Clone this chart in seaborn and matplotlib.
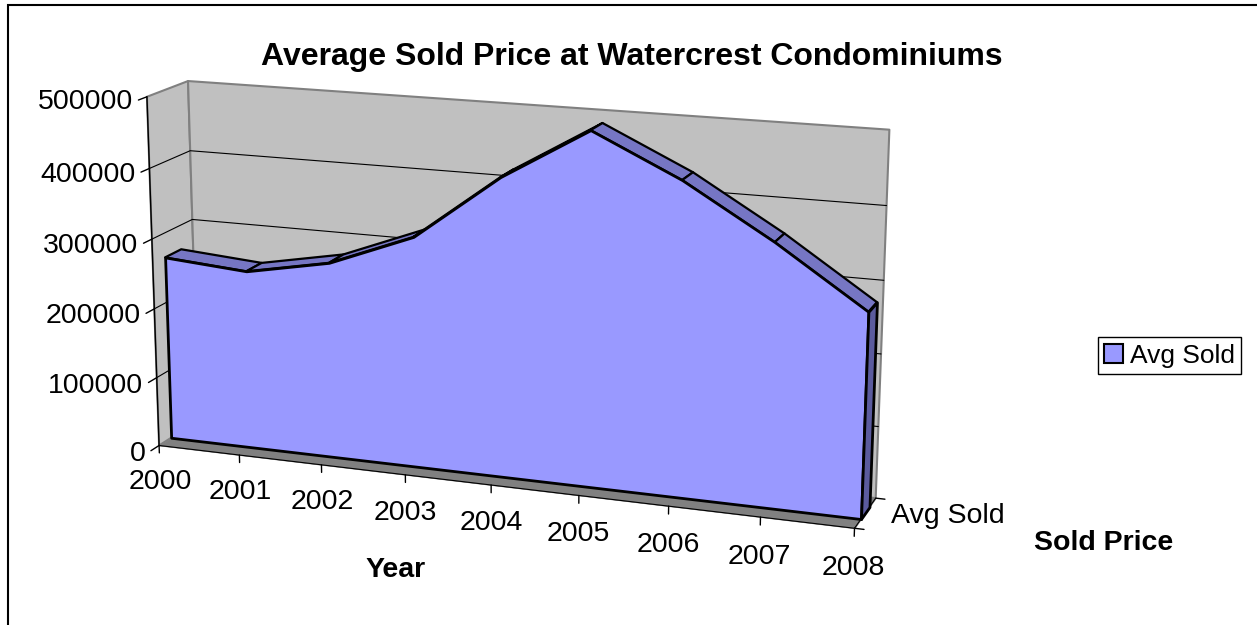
import matplotlib

matplotlib.use("Agg")

import matplotlib.pyplot as plt
import numpy as np
import pandas as pd
import seaborn as sns
from matplotlib.patches import Patch, Rectangle
from matplotlib.text import Text
from mpl_toolkits.mplot3d import proj3d
from mpl_toolkits.mplot3d.art3d import Poly3DCollection


YEARS = [2000, 2001, 2002, 2003, 2004, 2005, 2006, 2007, 2008]
AVG_SOLD = [265000, 256000, 279000, 326000, 418000, 490000, 433000, 361000, 280000]
VALUE_TICKS = [0, 100000, 200000, 300000, 400000, 500000]
SERIES_NAME = "Avg Sold"

TITLE = "Average Sold Price at Watercrest Condominiums"
X_TITLE = "Year"
DEPTH_TITLE = "Sold Price"

FRONT_COLOR = "#9999FF"
TOP_COLOR = "#7676C4"
SIDE_COLOR = "#5B5B9E"
WALL_COLOR = "#C0C0C0"
WALL_EDGE = "#808080"
FLOOR_COLOR = "#808080"

# the series slab sits in the middle of the 0..1 depth range (Excel gap depth 150%)
SLAB_FRONT, SLAB_BACK = 0.3, 0.7

W, H = 1257, 625

sns.set_theme(style="white")
plt.rcParams["font.family"] = ["Liberation Sans", "DejaVu Sans"]
plt.rcParams["text.color"] = "black"


def build_frame() -> pd.DataFrame:
    df = pd.DataFrame({"year": YEARS, "avg_sold": AVG_SOLD})
    df["pos"] = np.arange(len(df))
    return df


def label_3d(fig, ax, x, y, z, s, **kw):
    # project a 3D anchor through the axes' own projection, then place a flat text there
    px, py, _ = proj3d.proj_transform(x, y, z, ax.get_proj())
    fx, fy = fig.transFigure.inverted().transform(ax.transData.transform((px, py)))
    fig.text(fx, fy, s, **kw)


def draw_box(ax, x_max, z_max):
    floor = [(0, 0, 0), (x_max, 0, 0), (x_max, 1, 0), (0, 1, 0)]
    side = [(0, 0, 0), (0, 1, 0), (0, 1, z_max), (0, 0, z_max)]
    back = [(0, 1, 0), (x_max, 1, 0), (x_max, 1, z_max), (0, 1, z_max)]
    ax.add_collection3d(Poly3DCollection([floor], facecolor=FLOOR_COLOR, edgecolor=FLOOR_COLOR,
                                         linewidth=0.5, zorder=1))
    ax.add_collection3d(Poly3DCollection([side, back], facecolor=WALL_COLOR, edgecolor=WALL_EDGE,
                                         linewidth=1.5, zorder=1))

    # gridlines run across the side wall and the back wall
    for z in VALUE_TICKS[1:-1]:
        ax.plot([0, 0, x_max], [0, 1, 1], [z, z, z], color="black", linewidth=0.8, zorder=2)


def draw_axes(ax, df, x_max, z_max):
    # value axis on the front edge of the side wall
    ax.plot([0, 0], [0, 0], [0, z_max], color="black", linewidth=1.0, zorder=2)
    for z in VALUE_TICKS:
        ax.plot([0, 0], [0, -0.2], [z, z], color="black", linewidth=1.0, zorder=2)

    # category axis on the front edge of the floor
    ax.plot([0, x_max], [0, 0], [0, 0], color="black", linewidth=0.8, zorder=2)
    for pos in df["pos"]:
        ax.plot([pos, pos], [0, 0], [0, -11000], color="black", linewidth=1.0, zorder=2)

    # series (depth) axis on the right edge of the floor
    ax.plot([x_max, x_max], [0, 1], [0, 0], color="black", linewidth=0.8, zorder=2)
    for d in (0, 1):
        ax.plot([x_max, x_max + 0.1], [d, d], [0, 0], color="black", linewidth=1.0, zorder=2)


def draw_tick_labels(fig, ax, df, x_max):
    for z in VALUE_TICKS:
        label_3d(fig, ax, 0, -0.33, z, f"{z}", ha="right", va="center", fontsize=20.5)
    for pos, year in zip(df["pos"], df["year"]):
        label_3d(fig, ax, pos, 0, -55000, str(year), ha="center", va="center", fontsize=20.5)
    label_3d(fig, ax, x_max + 0.27, 0.5, 0, SERIES_NAME, ha="left", va="center", fontsize=20.5)


def draw_area(ax, df):
    pos = df["pos"].to_numpy()
    val = df["avg_sold"].to_numpy()

    tops = [
        [(pos[i], SLAB_FRONT, val[i]), (pos[i + 1], SLAB_FRONT, val[i + 1]),
         (pos[i + 1], SLAB_BACK, val[i + 1]), (pos[i], SLAB_BACK, val[i])]
        for i in range(len(pos) - 1)
    ]
    front = [(p, SLAB_FRONT, v) for p, v in zip(pos, val)]
    front += [(pos[-1], SLAB_FRONT, 0), (pos[0], SLAB_FRONT, 0)]
    end = [(pos[-1], SLAB_FRONT, 0), (pos[-1], SLAB_BACK, 0),
           (pos[-1], SLAB_BACK, val[-1]), (pos[-1], SLAB_FRONT, val[-1])]

    ax.add_collection3d(Poly3DCollection(tops, facecolor=TOP_COLOR, edgecolor="black",
                                         linewidth=1.6, zorder=3))
    ax.add_collection3d(Poly3DCollection([front], facecolor=FRONT_COLOR, edgecolor="black",
                                         linewidth=2.0, zorder=4))
    ax.add_collection3d(Poly3DCollection([end], facecolor=SIDE_COLOR, edgecolor="black",
                                         linewidth=2.0, zorder=5))


def main():
    df = build_frame()
    x_max = len(df) - 1
    z_max = VALUE_TICKS[-1]

    fig = plt.figure(figsize=(W / 100, H / 100), dpi=100)
    fig.patch.set_facecolor("white")

    # square 3D panel, larger than the figure height so the box fills the plot area
    ax = fig.add_axes([0.0724, -0.1376, 0.6444, 1.296], projection="3d", computed_zorder=False)
    ax.patch.set_visible(False)
    ax.set_xticks([])
    ax.set_yticks([])
    ax.set_zticks([])
    ax.set_axis_off()

    draw_box(ax, x_max, z_max)
    draw_axes(ax, df, x_max, z_max)
    draw_area(ax, df)

    ax.view_init(elev=15, azim=-70)
    ax.set_proj_type("persp", focal_length=0.62)
    ax.set_box_aspect((8, 1, 4.0))
    ax.set_xlim(0, x_max)
    ax.set_ylim(0, 1)
    ax.set_zlim(0, z_max)

    # the built-in (unused) axis titles and offset texts stay empty; hide them
    for t in ax.findobj(Text):
        if not t.get_text():
            t.set_visible(False)

    draw_tick_labels(fig, ax, df, x_max)

    fig.text(632 / W, 1 - 65 / H, TITLE, ha="center", va="baseline",
             fontsize=23, fontweight="bold")
    fig.text(396 / W, 1 - 570 / H, X_TITLE, ha="center", va="center",
             fontsize=20.5, fontweight="bold")
    fig.text(1104 / W, 1 - 543 / H, DEPTH_TITLE, ha="center", va="center",
             fontsize=20.5, fontweight="bold")

    handle = Patch(facecolor=FRONT_COLOR, edgecolor="black", linewidth=1.5)
    leg = fig.legend([handle], [SERIES_NAME], loc="center",
                     bbox_to_anchor=(1169.5 / W, 1 - 355.5 / H),
                     fontsize=19, frameon=True, fancybox=False, framealpha=1,
                     handlelength=0.7, handleheight=0.7, handletextpad=0.25,
                     borderpad=0.25, borderaxespad=0)
    leg.get_frame().set_edgecolor("black")
    leg.get_frame().set_linewidth(1.0)

    # chart-area border (only the left and top edges fall inside the picture)
    fig.add_artist(Rectangle((7.5 / W, -0.1), 1.5, 1.1 - 4.5 / H, transform=fig.transFigure,
                             fill=False, edgecolor="black", linewidth=1.5))

    fig.savefig("out.png", dpi=100)
    plt.close(fig)


if __name__ == "__main__":
    main()
